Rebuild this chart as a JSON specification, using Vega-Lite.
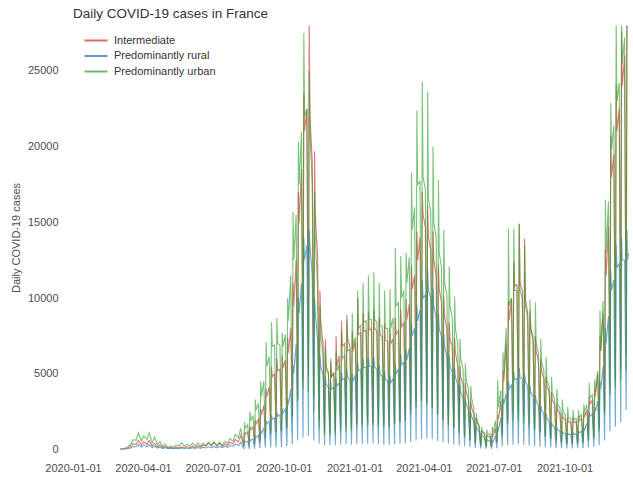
{
"$schema":"https://vega.github.io/schema/vega-lite/v6.json",
"autosize":{"type":"none"},
"padding":{"left":73,"top":25.5,"right":3,"bottom":27.5},
"width":557,"height":424,
"background":"white",
"config":{"font":"Liberation Sans","view":{"stroke":null}},
"title":{"text":"Daily COVID-19 cases in France","anchor":"start","frame":"group","fontSize":13.5,"fontWeight":"normal","color":"#333333","baseline":"alphabetic","offset":-6},
"layer":[
{"data":{"values":[
{"d":"2020-03-02","I":10,"R":5,"U":20},{"d":"2020-03-05","I":25,"R":12,"U":50},
{"d":"2020-03-09","I":50,"R":25,"U":90},{"d":"2020-03-12","I":100,"R":50,"U":180},
{"d":"2020-03-16","I":200,"R":100,"U":330},{"d":"2020-03-19","I":380,"R":190,"U":650},
{"d":"2020-03-23","I":330,"R":180,"U":600},{"d":"2020-03-26","I":600,"R":330,"U":1100},
{"d":"2020-03-30","I":300,"R":170,"U":550},{"d":"2020-04-02","I":520,"R":290,"U":900},
{"d":"2020-04-06","I":330,"R":180,"U":650},{"d":"2020-04-09","I":600,"R":330,"U":1100},
{"d":"2020-04-13","I":230,"R":130,"U":450},{"d":"2020-04-16","I":420,"R":230,"U":820},
{"d":"2020-04-20","I":160,"R":100,"U":300},{"d":"2020-04-23","I":300,"R":170,"U":530},
{"d":"2020-04-27","I":110,"R":60,"U":190},{"d":"2020-04-30","I":210,"R":120,"U":350},
{"d":"2020-05-04","I":80,"R":50,"U":130},{"d":"2020-05-07","I":140,"R":90,"U":230},
{"d":"2020-05-11","I":80,"R":50,"U":160},{"d":"2020-05-14","I":140,"R":90,"U":300},
{"d":"2020-05-18","I":100,"R":60,"U":230},{"d":"2020-05-21","I":180,"R":110,"U":450},
{"d":"2020-05-25","I":100,"R":50,"U":200},{"d":"2020-05-28","I":180,"R":100,"U":350},
{"d":"2020-06-01","I":120,"R":60,"U":230},{"d":"2020-06-04","I":220,"R":120,"U":420},
{"d":"2020-06-08","I":130,"R":70,"U":230},{"d":"2020-06-11","I":240,"R":130,"U":420},
{"d":"2020-06-15","I":160,"R":80,"U":230},{"d":"2020-06-18","I":300,"R":150,"U":420},
{"d":"2020-06-22","I":230,"R":100,"U":260},{"d":"2020-06-25","I":430,"R":180,"U":480},
{"d":"2020-06-29","I":260,"R":110,"U":260},{"d":"2020-07-02","I":480,"R":200,"U":480},
{"d":"2020-07-06","I":230,"R":110,"U":260},{"d":"2020-07-09","I":420,"R":200,"U":480},
{"d":"2020-07-13","I":200,"R":120,"U":290},{"d":"2020-07-16","I":360,"R":220,"U":540},
{"d":"2020-07-20","I":260,"R":140,"U":390},{"d":"2020-07-23","I":480,"R":260,"U":720},
{"d":"2020-07-27","I":360,"R":200,"U":550},{"d":"2020-07-30","I":660,"R":360,"U":1000},
{"d":"2020-08-03","I":500,"R":260,"U":780},{"d":"2020-08-06","I":950,"R":480,"U":1400},
{"d":"2020-08-10","I":220,"R":40,"U":250},{"d":"2020-08-11","I":1150,"R":560,"U":1800},{"d":"2020-08-12","I":1000,"R":500,"U":1400},{"d":"2020-08-15","I":1150,"R":550,"U":1650},
{"d":"2020-08-17","I":290,"R":45,"U":340},{"d":"2020-08-18","I":1500,"R":670,"U":2500},{"d":"2020-08-19","I":1300,"R":600,"U":1900},{"d":"2020-08-22","I":1500,"R":700,"U":2250},
{"d":"2020-08-24","I":370,"R":60,"U":470},{"d":"2020-08-25","I":1950,"R":900,"U":3300},{"d":"2020-08-26","I":1700,"R":800,"U":2600},{"d":"2020-08-29","I":2000,"R":950,"U":3050},
{"d":"2020-08-31","I":500,"R":80,"U":630},{"d":"2020-09-01","I":2650,"R":1230,"U":4500},{"d":"2020-09-02","I":2300,"R":1100,"U":3500},{"d":"2020-09-05","I":2900,"R":1400,"U":4500},
{"d":"2020-09-07","I":770,"R":120,"U":1000},{"d":"2020-09-08","I":4000,"R":1900,"U":7100},{"d":"2020-09-09","I":3500,"R":1700,"U":5500},{"d":"2020-09-12","I":4150,"R":1850,"U":6150},
{"d":"2020-09-14","I":1050,"R":140,"U":1200},{"d":"2020-09-15","I":5500,"R":2250,"U":8400},{"d":"2020-09-16","I":4800,"R":2000,"U":6800},{"d":"2020-09-19","I":5000,"R":2100,"U":6900},
{"d":"2020-09-21","I":1150,"R":150,"U":1250},{"d":"2020-09-22","I":6000,"R":2450,"U":8700},{"d":"2020-09-23","I":5200,"R":2200,"U":7000},{"d":"2020-09-26","I":5300,"R":2300,"U":6900},
{"d":"2020-09-28","I":1200,"R":170,"U":1200},{"d":"2020-09-29","I":6200,"R":2700,"U":7700},{"d":"2020-09-30","I":5400,"R":2400,"U":6800},{"d":"2020-10-03","I":5900,"R":2700,"U":7600},
{"d":"2020-10-05","I":1400,"R":210,"U":1500},{"d":"2020-10-06","I":7400,"R":3350,"U":10000},{"d":"2020-10-07","I":6400,"R":3000,"U":8500},{"d":"2020-10-10","I":8000,"R":4000,"U":11500},
{"d":"2020-10-12","I":2100,"R":350,"U":2200},{"d":"2020-10-13","I":11000,"R":5600,"U":15700},{"d":"2020-10-14","I":9500,"R":5000,"U":12500},{"d":"2020-10-17","I":12500,"R":7000,"U":15500},
{"d":"2020-10-19","I":3300,"R":600,"U":3200},{"d":"2020-10-20","I":17000,"R":10000,"U":20300},{"d":"2020-10-21","I":15000,"R":9000,"U":17500},{"d":"2020-10-24","I":18500,"R":11000,"U":21000},
{"d":"2020-10-26","I":4600,"R":800,"U":4000},{"d":"2020-10-27","I":23500,"R":14000,"U":27500},{"d":"2020-10-28","I":21000,"R":12500,"U":22000},{"d":"2020-10-31","I":22500,"R":13500,"U":22500},
{"d":"2020-11-02","I":4800,"R":900,"U":3800},{"d":"2020-11-03","I":28400,"R":14500,"U":25000},{"d":"2020-11-04","I":22000,"R":13500,"U":21000},{"d":"2020-11-07","I":19000,"R":11500,"U":17500},
{"d":"2020-11-09","I":3400,"R":600,"U":2500},{"d":"2020-11-10","I":19700,"R":10000,"U":17000},{"d":"2020-11-11","I":15500,"R":9000,"U":14000},{"d":"2020-11-14","I":12700,"R":7200,"U":10500},
{"d":"2020-11-16","I":1900,"R":400,"U":1400},{"d":"2020-11-17","I":10500,"R":6200,"U":9500},{"d":"2020-11-18","I":8500,"R":5500,"U":7500},{"d":"2020-11-21","I":7000,"R":4900,"U":6300},
{"d":"2020-11-23","I":1200,"R":300,"U":950},{"d":"2020-11-24","I":7300,"R":4800,"U":6800},{"d":"2020-11-25","I":5500,"R":4300,"U":5200},{"d":"2020-11-28","I":5100,"R":4100,"U":5000},
{"d":"2020-11-30","I":1050,"R":280,"U":900},{"d":"2020-12-01","I":5800,"R":4500,"U":6000},{"d":"2020-12-02","I":4800,"R":4000,"U":4800},{"d":"2020-12-05","I":5100,"R":4100,"U":5000},
{"d":"2020-12-07","I":1200,"R":300,"U":950},{"d":"2020-12-08","I":7500,"R":4700,"U":6500},{"d":"2020-12-09","I":5500,"R":4200,"U":5200},{"d":"2020-12-12","I":6200,"R":4400,"U":5600},
{"d":"2020-12-14","I":1500,"R":320,"U":1100},{"d":"2020-12-15","I":8500,"R":5100,"U":7800},{"d":"2020-12-16","I":6800,"R":4600,"U":6000},{"d":"2020-12-19","I":7000,"R":4700,"U":6200},
{"d":"2020-12-21","I":1600,"R":340,"U":1200},{"d":"2020-12-22","I":8900,"R":5300,"U":8500},{"d":"2020-12-23","I":7300,"R":4800,"U":6500},{"d":"2020-12-26","I":6800,"R":4600,"U":6600},
{"d":"2020-12-28","I":1400,"R":320,"U":1200},{"d":"2020-12-29","I":7800,"R":5000,"U":9000},{"d":"2020-12-30","I":6500,"R":4500,"U":6800},{"d":"2021-01-02","I":7100,"R":4900,"U":7400},
{"d":"2021-01-04","I":1700,"R":360,"U":1450},{"d":"2021-01-05","I":10000,"R":5800,"U":10500},{"d":"2021-01-06","I":7600,"R":5200,"U":8000},{"d":"2021-01-09","I":7700,"R":5300,"U":8200},
{"d":"2021-01-11","I":1700,"R":380,"U":1500},{"d":"2021-01-12","I":9000,"R":6000,"U":11000},{"d":"2021-01-13","I":7800,"R":5400,"U":8400},{"d":"2021-01-16","I":7850,"R":5450,"U":8500},
{"d":"2021-01-18","I":1750,"R":390,"U":1550},{"d":"2021-01-19","I":9100,"R":6100,"U":11500},{"d":"2021-01-20","I":7900,"R":5500,"U":8600},{"d":"2021-01-23","I":7950,"R":5500,"U":8600},
{"d":"2021-01-25","I":1750,"R":390,"U":1550},{"d":"2021-01-26","I":9200,"R":6100,"U":11700},{"d":"2021-01-27","I":8000,"R":5500,"U":8600},{"d":"2021-01-30","I":7800,"R":5250,"U":8400},
{"d":"2021-02-01","I":1650,"R":350,"U":1500},{"d":"2021-02-02","I":8700,"R":5600,"U":11000},{"d":"2021-02-03","I":7600,"R":5000,"U":8200},{"d":"2021-02-06","I":7400,"R":4800,"U":8100},
{"d":"2021-02-08","I":1600,"R":320,"U":1450},{"d":"2021-02-09","I":8300,"R":5150,"U":10500},{"d":"2021-02-10","I":7200,"R":4600,"U":8000},{"d":"2021-02-13","I":7100,"R":4500,"U":8000},
{"d":"2021-02-15","I":1550,"R":310,"U":1450},{"d":"2021-02-16","I":8000,"R":4900,"U":10600},{"d":"2021-02-17","I":7000,"R":4400,"U":8000},{"d":"2021-02-20","I":7300,"R":4700,"U":8700},
{"d":"2021-02-22","I":1650,"R":350,"U":1700},{"d":"2021-02-23","I":8700,"R":5600,"U":13300},{"d":"2021-02-24","I":7600,"R":5000,"U":9500},{"d":"2021-02-27","I":7850,"R":5300,"U":9700},
{"d":"2021-03-01","I":1800,"R":390,"U":1800},{"d":"2021-03-02","I":9300,"R":6300,"U":12800},{"d":"2021-03-03","I":8100,"R":5600,"U":10000},{"d":"2021-03-06","I":8350,"R":5750,"U":10500},
{"d":"2021-03-08","I":1900,"R":410,"U":2000},{"d":"2021-03-09","I":9900,"R":6600,"U":13000},{"d":"2021-03-10","I":8600,"R":5900,"U":11000},{"d":"2021-03-13","I":9600,"R":6700,"U":12700},
{"d":"2021-03-15","I":2300,"R":500,"U":2600},{"d":"2021-03-16","I":12200,"R":8400,"U":18300},{"d":"2021-03-17","I":10600,"R":7500,"U":14500},{"d":"2021-03-20","I":11500,"R":8000,"U":16000},
{"d":"2021-03-22","I":2750,"R":600,"U":3100},{"d":"2021-03-23","I":14400,"R":9500,"U":22400},{"d":"2021-03-24","I":12500,"R":8500,"U":17500},{"d":"2021-03-27","I":14000,"R":9200,"U":17700},
{"d":"2021-03-29","I":3400,"R":700,"U":3200},{"d":"2021-03-30","I":17000,"R":11200,"U":24300},{"d":"2021-03-31","I":15500,"R":10000,"U":18000},{"d":"2021-04-03","I":14700,"R":10200,"U":17200},
{"d":"2021-04-05","I":3100,"R":730,"U":3000},{"d":"2021-04-06","I":16100,"R":11800,"U":23600},{"d":"2021-04-07","I":14000,"R":10500,"U":16500},{"d":"2021-04-10","I":13200,"R":10000,"U":15700},
{"d":"2021-04-12","I":2750,"R":670,"U":2700},{"d":"2021-04-13","I":14400,"R":10600,"U":20000},{"d":"2021-04-14","I":12500,"R":9500,"U":15000},{"d":"2021-04-17","I":11500,"R":8700,"U":14000},
{"d":"2021-04-19","I":2300,"R":560,"U":2350},{"d":"2021-04-20","I":12200,"R":9000,"U":17800},{"d":"2021-04-21","I":10600,"R":8000,"U":13000},{"d":"2021-04-24","I":9700,"R":7400,"U":12000},
{"d":"2021-04-26","I":1950,"R":480,"U":2000},{"d":"2021-04-27","I":10100,"R":7600,"U":14500},{"d":"2021-04-28","I":8800,"R":6800,"U":11000},{"d":"2021-05-01","I":8000,"R":6100,"U":10200},
{"d":"2021-05-03","I":1600,"R":390,"U":1700},{"d":"2021-05-04","I":8400,"R":6200,"U":12100},{"d":"2021-05-05","I":7300,"R":5500,"U":9500},{"d":"2021-05-08","I":6800,"R":5100,"U":8700},
{"d":"2021-05-10","I":1400,"R":340,"U":1450},{"d":"2021-05-11","I":7400,"R":5400,"U":10100},{"d":"2021-05-12","I":6400,"R":4800,"U":8000},{"d":"2021-05-15","I":5600,"R":4300,"U":7000},
{"d":"2021-05-17","I":1050,"R":270,"U":1100},{"d":"2021-05-18","I":5500,"R":4250,"U":7300},{"d":"2021-05-19","I":4800,"R":3800,"U":6000},{"d":"2021-05-22","I":4300,"R":3400,"U":5300},
{"d":"2021-05-24","I":850,"R":210,"U":830},{"d":"2021-05-25","I":4400,"R":3350,"U":5700},{"d":"2021-05-26","I":3800,"R":3000,"U":4600},{"d":"2021-05-29","I":3300,"R":2600,"U":4000},
{"d":"2021-05-31","I":620,"R":160,"U":610},{"d":"2021-06-01","I":3200,"R":2450,"U":4200},{"d":"2021-06-02","I":2800,"R":2200,"U":3400},{"d":"2021-06-05","I":2300,"R":1800,"U":2700},
{"d":"2021-06-07","I":400,"R":100,"U":360},{"d":"2021-06-08","I":2100,"R":1550,"U":2400},{"d":"2021-06-09","I":1800,"R":1400,"U":2000},{"d":"2021-06-12","I":1450,"R":1150,"U":1600},
{"d":"2021-06-14","I":250,"R":70,"U":220},{"d":"2021-06-15","I":1250,"R":1000,"U":1500},{"d":"2021-06-16","I":1100,"R":900,"U":1200},{"d":"2021-06-19","I":980,"R":750,"U":1100},
{"d":"2021-06-21","I":200,"R":50,"U":180},{"d":"2021-06-22","I":980,"R":670,"U":1300},{"d":"2021-06-23","I":850,"R":600,"U":1000},{"d":"2021-06-26","I":870,"R":550,"U":1050},
{"d":"2021-06-28","I":200,"R":40,"U":200},{"d":"2021-06-29","I":1050,"R":560,"U":1500},{"d":"2021-06-30","I":900,"R":500,"U":1100},{"d":"2021-07-03","I":1400,"R":900,"U":1900},
{"d":"2021-07-05","I":450,"R":90,"U":500},{"d":"2021-07-06","I":2300,"R":1450,"U":4600},{"d":"2021-07-07","I":2000,"R":1300,"U":2800},{"d":"2021-07-10","I":3200,"R":2100,"U":3900},
{"d":"2021-07-12","I":1000,"R":210,"U":900},{"d":"2021-07-13","I":5200,"R":3350,"U":6400},{"d":"2021-07-14","I":4500,"R":3000,"U":5000},{"d":"2021-07-17","I":7000,"R":3700,"U":8000},
{"d":"2021-07-19","I":1900,"R":280,"U":1700},{"d":"2021-07-20","I":9800,"R":4500,"U":14600},{"d":"2021-07-21","I":8500,"R":4000,"U":9500},{"d":"2021-07-24","I":10000,"R":4300,"U":10000},
{"d":"2021-07-26","I":2400,"R":320,"U":1900},{"d":"2021-07-27","I":12400,"R":5150,"U":14600},{"d":"2021-07-28","I":10800,"R":4600,"U":10500},{"d":"2021-07-31","I":10900,"R":4700,"U":10500},
{"d":"2021-08-02","I":2400,"R":340,"U":1900},{"d":"2021-08-03","I":14900,"R":5400,"U":14900},{"d":"2021-08-04","I":11000,"R":4800,"U":10500},{"d":"2021-08-07","I":10500,"R":4650,"U":10000},
{"d":"2021-08-09","I":2200,"R":320,"U":1700},{"d":"2021-08-10","I":13900,"R":5000,"U":13500},{"d":"2021-08-11","I":10000,"R":4500,"U":9500},{"d":"2021-08-14","I":9000,"R":4150,"U":8700},
{"d":"2021-08-16","I":1750,"R":270,"U":1450},{"d":"2021-08-17","I":9200,"R":4250,"U":9900},{"d":"2021-08-18","I":8000,"R":3800,"U":8000},{"d":"2021-08-21","I":7200,"R":3500,"U":7500},
{"d":"2021-08-23","I":1400,"R":220,"U":1250},{"d":"2021-08-24","I":7500,"R":3600,"U":9700},{"d":"2021-08-25","I":6500,"R":3200,"U":7000},{"d":"2021-08-28","I":5800,"R":2900,"U":6400},
{"d":"2021-08-30","I":1150,"R":180,"U":1050},{"d":"2021-08-31","I":6000,"R":2900,"U":7300},{"d":"2021-09-01","I":5200,"R":2600,"U":5800},{"d":"2021-09-04","I":4700,"R":2350,"U":5200},
{"d":"2021-09-06","I":920,"R":150,"U":830},{"d":"2021-09-07","I":4800,"R":2350,"U":6100},{"d":"2021-09-08","I":4200,"R":2100,"U":4600},{"d":"2021-09-11","I":3750,"R":1850,"U":4150},
{"d":"2021-09-13","I":730,"R":110,"U":670},{"d":"2021-09-14","I":3800,"R":1800,"U":4800},{"d":"2021-09-15","I":3300,"R":1600,"U":3700},{"d":"2021-09-18","I":2950,"R":1450,"U":3350},
{"d":"2021-09-20","I":570,"R":90,"U":540},{"d":"2021-09-21","I":3000,"R":1450,"U":4000},{"d":"2021-09-22","I":2600,"R":1300,"U":3000},{"d":"2021-09-25","I":2350,"R":1200,"U":2750},
{"d":"2021-09-27","I":460,"R":80,"U":450},{"d":"2021-09-28","I":2400,"R":1230,"U":3300},{"d":"2021-09-29","I":2100,"R":1100,"U":2500},{"d":"2021-10-02","I":1950,"R":1050,"U":2300},
{"d":"2021-10-04","I":400,"R":70,"U":380},{"d":"2021-10-05","I":2100,"R":1120,"U":2800},{"d":"2021-10-06","I":1800,"R":1000,"U":2100},{"d":"2021-10-09","I":1800,"R":1000,"U":2050},
{"d":"2021-10-11","I":400,"R":70,"U":360},{"d":"2021-10-12","I":2100,"R":1120,"U":2600},{"d":"2021-10-13","I":1800,"R":1000,"U":2000},{"d":"2021-10-16","I":1850,"R":1050,"U":2050},
{"d":"2021-10-18","I":420,"R":80,"U":380},{"d":"2021-10-19","I":2200,"R":1230,"U":2600},{"d":"2021-10-20","I":1900,"R":1100,"U":2100},{"d":"2021-10-23","I":2050,"R":1200,"U":2300},
{"d":"2021-10-25","I":480,"R":90,"U":450},{"d":"2021-10-26","I":2500,"R":1450,"U":3000},{"d":"2021-10-27","I":2200,"R":1300,"U":2500},{"d":"2021-10-30","I":2600,"R":1750,"U":2950},
{"d":"2021-11-01","I":660,"R":150,"U":610},{"d":"2021-11-02","I":3450,"R":2450,"U":4400},{"d":"2021-11-03","I":3000,"R":2200,"U":3400},{"d":"2021-11-06","I":3250,"R":2350,"U":3600},
{"d":"2021-11-08","I":770,"R":180,"U":680},{"d":"2021-11-09","I":4000,"R":2800,"U":4600},{"d":"2021-11-10","I":3500,"R":2500,"U":3800},{"d":"2021-11-13","I":5000,"R":3200,"U":5200},
{"d":"2021-11-15","I":1400,"R":280,"U":1200},{"d":"2021-11-16","I":7500,"R":4500,"U":9200},{"d":"2021-11-17","I":6500,"R":4000,"U":6500},{"d":"2021-11-20","I":9000,"R":5500,"U":9800},
{"d":"2021-11-22","I":2500,"R":600,"U":2300},{"d":"2021-11-23","I":13200,"R":8000,"U":16500},{"d":"2021-11-24","I":11500,"R":7000,"U":13000},{"d":"2021-11-27","I":14700,"R":8800,"U":16400},
{"d":"2021-11-29","I":4000,"R":1200,"U":3600},{"d":"2021-11-30","I":20700,"R":11800,"U":22900},{"d":"2021-12-01","I":18000,"R":10500,"U":19800},{"d":"2021-12-04","I":19500,"R":11200,"U":21400},
{"d":"2021-12-06","I":4600,"R":1500,"U":4100},{"d":"2021-12-07","I":24100,"R":13500,"U":28400},{"d":"2021-12-08","I":21000,"R":12000,"U":23000},{"d":"2021-12-11","I":22500,"R":12300,"U":24200},
{"d":"2021-12-13","I":5300,"R":1800,"U":4600},{"d":"2021-12-14","I":27600,"R":14000,"U":28400},{"d":"2021-12-15","I":24000,"R":12500,"U":25500},{"d":"2021-12-18","I":26000,"R":12500,"U":27200},
{"d":"2021-12-20","I":6300,"R":2600,"U":5200},{"d":"2021-12-21","I":28400,"R":14500,"U":28400},{"d":"2021-12-22","I":28400,"R":12500,"U":28400},{"d":"2021-12-23","I":28400,"R":13000,"U":28400}
]},
"transform":[{"fold":["I","R","U"],"as":["s","v"]}],
"mark":{"type":"line","strokeWidth":1.15,"opacity":0.62,"clip":true},
"encoding":{
"x":{"field":"d","type":"temporal","scale":{"type":"utc","domain":[{"year":2020,"month":1,"date":1,"utc":true},{"year":2021,"month":12,"date":25,"utc":true}]},
"axis":{"title":null,"domain":false,"ticks":false,"grid":false,"offset":4,"labelPadding":9,"labelFontSize":11,"labelColor":"#4d4d4d","format":"%Y-%m-%d","labelFlush":false,"labelOverlap":false,
"values":[{"year":2020,"month":1,"date":1,"utc":true},{"year":2020,"month":4,"date":1,"utc":true},{"year":2020,"month":7,"date":1,"utc":true},{"year":2020,"month":10,"date":1,"utc":true},{"year":2021,"month":1,"date":1,"utc":true},{"year":2021,"month":4,"date":1,"utc":true},{"year":2021,"month":7,"date":1,"utc":true},{"year":2021,"month":10,"date":1,"utc":true}]}},
"y":{"field":"v","type":"quantitative","scale":{"domain":[0,28000],"nice":false},
"axis":{"title":"Daily COVID-19 cases","format":"d","titleFontSize":11,"titleFontWeight":"normal","titleColor":"#4d4d4d","titlePadding":6,"domain":false,"ticks":false,"grid":false,"offset":5,"labelPadding":10,"labelFontSize":11,"labelColor":"#4d4d4d","values":[0,5000,10000,15000,20000,25000],"labelFlush":false}},
"color":{"field":"s","type":"nominal","scale":{"domain":["I","R","U"],"range":["#d62728","#1f77b4","#2ca02c"]},
"legend":{"title":null,"orient":"none","legendX":16,"legendY":8,"symbolType":"M-2,0H2","symbolSize":132,"symbolStrokeWidth":2,"symbolOpacity":0.7,"labelFontSize":11,"labelColor":"#333333","labelOffset":11,"rowPadding":3.5,
"labelExpr":"datum.label == 'I' ? 'Intermediate' : datum.label == 'R' ? 'Predominantly rural' : 'Predominantly urban'"}}
}},
{"mark":{"type":"rule","color":"#9a9a9a","strokeWidth":1,"xOffset":-5},
"encoding":{"x":{"datum":{"year":2020,"month":1,"date":1,"utc":true},"type":"temporal"},"y":{"datum":0,"type":"quantitative"},"y2":{"datum":25000}}},
{"mark":{"type":"rule","color":"#9a9a9a","strokeWidth":1,"yOffset":4},
"encoding":{"x":{"datum":{"year":2020,"month":1,"date":1,"utc":true},"type":"temporal"},"x2":{"datum":{"year":2021,"month":10,"date":1,"utc":true}},"y":{"datum":0,"type":"quantitative"}}}
]
}
